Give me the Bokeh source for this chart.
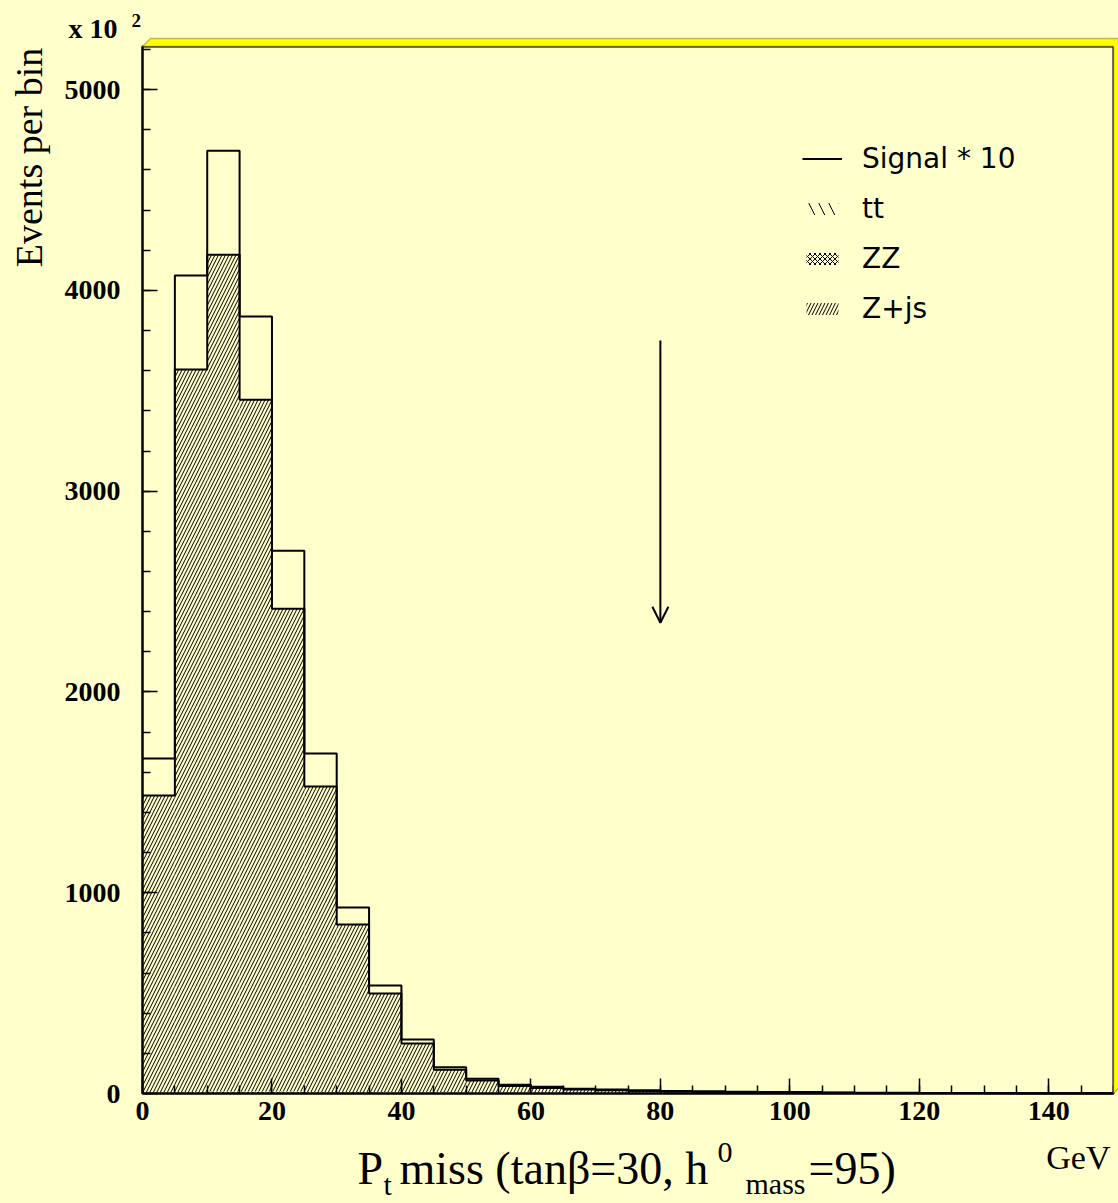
import math
import numpy as np
from bokeh.plotting import figure
from bokeh.models import (Label, PolyAnnotation, Arrow, OpenHead, Legend, LegendItem,
                          FixedTicker, Range1d)
from bokeh.embed import file_html
from bokeh.resources import INLINE

# ---------------- data ----------------
bin_edges = list(range(0, 155, 5))          # GeV, 30 bins of 5 GeV
zz = [3, 5, 6, 6, 6, 5, 5, 4, 3, 3, 2, 2, 2, 1, 1, 1, 1, 1, 1, 1, 1, 0, 0, 0, 0, 0, 0, 0, 0, 0]
tt = [1, 2, 3, 3, 3, 3, 3, 3, 2, 2, 2, 2, 2, 2, 2, 2, 1, 1, 1, 1, 1, 1, 1, 1, 1, 1, 0, 0, 0, 0]
zjets = [1480, 3599, 4169, 3447, 2406, 1521, 834, 491, 244, 113, 61, 33, 23, 17, 13,
         10, 8, 6, 5, 4, 3, 3, 2, 2, 1, 1, 1, 1, 1, 1]
signal_x10 = [184, 468, 518, 414, 289, 164, 84, 40, 20, 13, 8, 6, 6, 4, 4,
              3, 3, 3, 2, 2, 2, 1, 1, 1, 1, 1, 1, 0, 0, 0]
x_ticks = [0, 20, 40, 60, 80, 100, 120, 140]
x_minor = list(range(0, 155, 5))
y_ticks = [0, 1000, 2000, 3000, 4000, 5000]
y_minor = list(range(0, 5400, 200))
cut_x = 80
arrow_from = 3750
arrow_to = 2345
x_max = 150
y_max = 5215

# ---------------- layout ----------------
BG = "#ffffcc"
W, H = 1118, 1203
FL, FR, FT, FB = 142, 1113, 46, 1093        # pixel box of the data area
kx = (FR - FL) / x_max
ky = (FB - FT) / y_max

p = figure(width=W, height=H, output_backend="svg", toolbar_location=None, title=None,
           x_range=Range1d(-FL / kx, (W - FL) / kx),
           y_range=Range1d(-(H - FB) / ky, FB / ky),
           min_border=0, min_border_left=0, min_border_right=0,
           min_border_top=0, min_border_bottom=0,
           background_fill_color=BG, border_fill_color=BG)
try:
    from bokeh.models import GlobalInlineStyleSheet
    p.stylesheets = [GlobalInlineStyleSheet(css="html, body { background-color: #ffffcc; }")]
except Exception:
    pass

p.grid.visible = False
p.outline_line_color = None

p.xaxis.ticker = FixedTicker(ticks=x_ticks, minor_ticks=x_minor)
p.yaxis.ticker = FixedTicker(ticks=y_ticks, minor_ticks=y_minor)
p.xaxis.fixed_location = 0
p.yaxis.fixed_location = 0
p.xaxis.bounds = (0, x_max)
p.yaxis.bounds = (0, y_max)
for ax in (p.xaxis, p.yaxis):
    ax.axis_line_width = 2
    ax.major_tick_in = 15
    ax.major_tick_out = 0
    ax.minor_tick_in = 8
    ax.minor_tick_out = 0
    ax.major_tick_line_width = 1.5
    ax.minor_tick_line_width = 1.5
    ax.major_label_text_font = "Liberation Serif"
    ax.major_label_text_font_style = "bold"
    ax.major_label_text_font_size = "28px"
    ax.major_label_text_color = "black"
p.xaxis.major_label_standoff = 8
p.yaxis.major_label_standoff = 22

lefts = np.array(bin_edges[:-1], dtype=float)
rights = np.array(bin_edges[1:], dtype=float)
t_zz = np.array(zz, dtype=float)
t_tt = t_zz + np.array(tt)
t_zj = t_tt + np.array(zjets)
t_all = t_zj + np.array(signal_x10)

p.quad(left=lefts, right=rights, bottom=t_zj, top=t_all, fill_color=BG, line_color=None)
r_zj = p.quad(left=lefts, right=rights, bottom=t_tt, top=t_zj, fill_color=BG, line_color=None,
              hatch_pattern="/", hatch_scale=7, hatch_weight=1, hatch_color="black")
r_tt = p.quad(left=lefts, right=rights, bottom=t_zz, top=t_tt, fill_color=BG, line_color=None,
              hatch_pattern="\\", hatch_scale=20, hatch_weight=1, hatch_color="black")
r_zz = p.quad(left=lefts, right=rights, bottom=0, top=t_zz, fill_color=BG, line_color=None,
              hatch_pattern="x", hatch_scale=5, hatch_weight=1, hatch_color="black")

r_sig = p.step(x=bin_edges, y=list(t_all) + [t_all[-1]], mode="after",
               line_color="black", line_width=2)
p.step(x=bin_edges, y=list(t_zj) + [t_zj[-1]], mode="after", line_color="black", line_width=2)

# data-area box (frame)
p.quad(left=[0], right=[x_max], bottom=[0], top=[y_max], fill_color=None,
       line_color="black", line_width=2)

p.add_layout(Arrow(end=OpenHead(size=16, line_width=2, line_color="black"),
                   x_start=cut_x, y_start=arrow_from, x_end=cut_x, y_end=arrow_to,
                   line_width=2, line_color="black"))

legend = Legend(items=[LegendItem(label="Signal * 10", renderers=[r_sig]),
                       LegendItem(label="tt", renderers=[r_tt]),
                       LegendItem(label="ZZ", renderers=[r_zz]),
                       LegendItem(label="Z+js", renderers=[r_zj])],
                location=(802, H - 333), glyph_width=40, glyph_height=15, label_height=50,
                spacing=0, padding=0, margin=0, label_standoff=20,
                border_line_color=None, background_fill_alpha=0,
                label_text_font="DejaVu Sans", label_text_font_size="28px",
                label_text_color="black")
p.add_layout(legend, "center")

# 3-D yellow frame edge (top and right)
p.add_layout(PolyAnnotation(xs=[FL, FL + 8, FR + 8, FR + 8, FR, FR],
                            ys=[FT, FT - 8, FT - 8, FB - 8, FB, FT],
                            xs_units="canvas", ys_units="canvas",
                            fill_color="#ffff00", fill_alpha=1,
                            line_color="#222222", line_width=1.5))

serif = "Liberation Serif"
def lab(x, base, text, size, bold=False, align="left", angle=0.0):
    # base = wanted baseline position in pixels; Bokeh's anchor sits ~1/3 em off it
    shift = 0.34 * size
    if angle:
        x, y = base - shift, x
    else:
        y = base - shift
    p.add_layout(Label(x=x, y=y, text=text, x_units="canvas", y_units="canvas",
                       text_font=serif, text_font_size=f"{size}px",
                       text_font_style="bold" if bold else "normal",
                       text_align=align, text_baseline="alphabetic", angle=angle,
                       text_color="black"))

lab(68, 38, "x 10", 28, bold=True)
lab(131, 26, "2", 19, bold=True)
lab(157, 41, "Events per bin", 38, align="center", angle=math.pi / 2)
lab(357, 1184, "P", 46)
lab(383, 1194, "t", 30)
lab(399, 1184, "miss (tanβ=30, h", 46)
lab(717, 1162, "0", 30)
lab(745, 1193, "mass", 30)
lab(808, 1184, "=95)", 46)
lab(1110, 1169, "GeV", 34, align="right")

open("out.html", "w").write(file_html(p, INLINE))
